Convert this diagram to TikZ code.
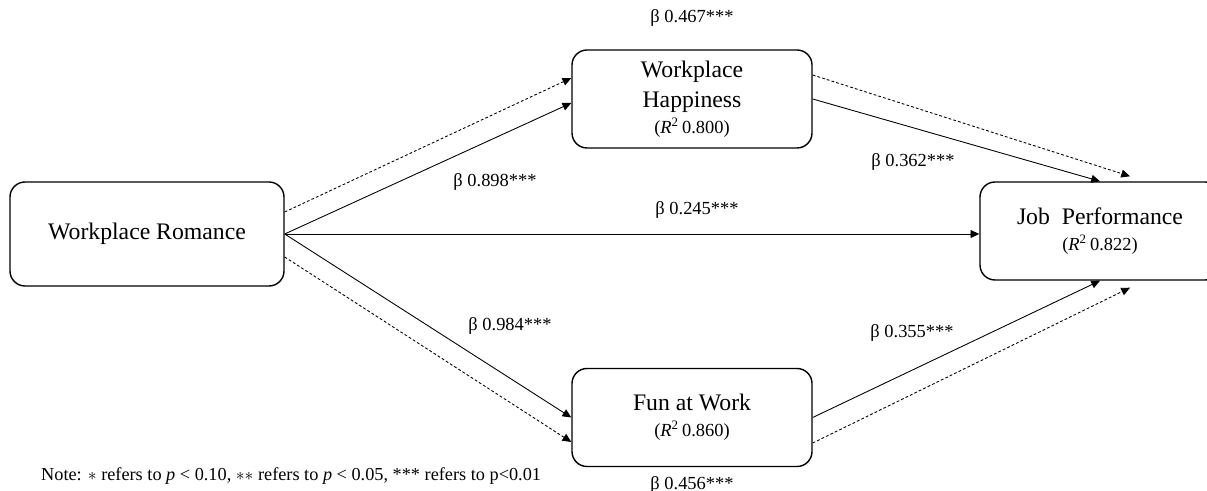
\documentclass[tikz,border=0pt]{standalone}
\usepackage{fontspec}
\setmainfont{Liberation Serif}
\usetikzlibrary{arrows.meta,calc}
\newcommand{\rsq}[1]{{\fontsize{10.5}{12}\selectfont(\textit{R}\textsuperscript{2}\,#1)}}

\begin{document}
\begin{tikzpicture}[
    box/.style={draw,line width=0.8pt,rounded corners=0.3cm,minimum width=4.8cm,minimum height=1.96cm,align=center,font=\fontsize{13.5}{17}\selectfont},
    link/.style={-{Triangle[length=5pt,width=4.5pt]},line width=0.5pt},
    indirect/.style={link,dash pattern=on 1.6pt off 1.2pt},
    coef/.style={font=\fontsize{10.5}{12}\selectfont}]
    \useasboundingbox (0,0) rectangle (24.14,9.82);
    % Variaveis
    \node[box,minimum width=5.48cm,minimum height=2.08cm] (wr) at (2.94,5.14) {Workplace Romance};
    \node[box] (wh) at (13.84,7.84) {Workplace\\Happiness\\[-2pt]\rsq{0.800}};
    \node[box] (fw) at (13.84,1.47) {Fun at Work\\[-2pt]\rsq{0.860}};
    \node[box] (jp) at (22.0,5.2) {Job\ \ Performance\\[-2pt]\rsq{0.822}};
    % Efeitos diretos
    \draw[link] (wr.east) -- ($(wh.west)+(0,-0.08)$);
    \draw[link] (wr.east) -- (wr.east -| jp.west);
    \draw[link] (wr.east) -- (fw.west);
    \draw[link] (wh.east) -- (jp.north);
    \draw[link] (fw.east) -- (jp.south);
    % Efeitos indiretos
    \draw[indirect] ($(wr.east)+(0,0.44)$) -- ($(wh.west)+(0,0.42)$);
    \draw[indirect] ($(wr.east)+(0,-0.46)$) -- ($(fw.west)+(0,-0.49)$);
    \draw[indirect] ($(wh.east)+(0,0.48)$) -- ($(jp.north)+(0.6,0.1)$);
    \draw[indirect] ($(fw.east)+(0,-0.51)$) -- ($(jp.south)+(0.6,-0.14)$);
    % Coeficientes
    \node[coef] (b1) at (13.84,9.46) {β 0.467***};
    \node[coef] (b2) at (9.9,6.18) {β 0.898***};
    \node[coef] (b3) at (13.94,5.62) {β 0.245***};
    \node[coef] (b4) at (18.26,6.58) {β 0.362***};
    \node[coef] (b5) at (10.2,3.3) {β 0.984***};
    \node[coef] (b6) at (18.24,3.16) {β 0.355***};
    \node[coef,anchor=base] (b7) at (13.84,0.03) {β 0.456***};
    % Nota
    \node[anchor=base west,font=\fontsize{10.4}{12}\selectfont] (note) at (0.7,0.2)
        {Note: $\ast$ refers to \textit{p} < 0.10, $\ast\ast$ refers to \textit{p} < 0.05, *** refers to p<0.01};
\end{tikzpicture}
\end{document}
